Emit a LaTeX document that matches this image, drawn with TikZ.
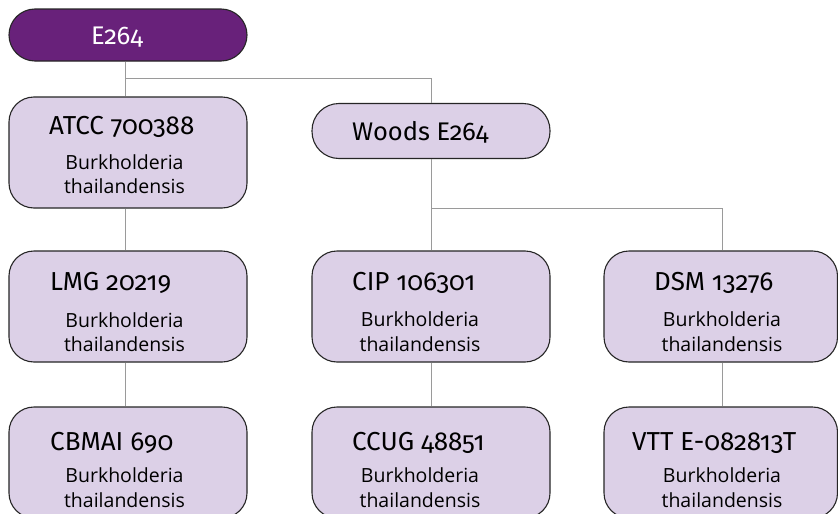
\documentclass[tikz,border=0pt]{standalone}
\usepackage{fontspec}
\newfontfamily\titlefont[Numbers=OldStyle]{Fira Sans}
\newfontfamily\bodyfont{Open Sans}
\definecolor{deeppurple}{HTML}{68217A}
\definecolor{lilac}{HTML}{DCD0E7}
\definecolor{linegrey}{HTML}{9A9A9A}
\begin{document}
\begin{tikzpicture}[x=1pt,y=-1pt,
  box/.style={draw=black!85, line width=1.1pt, fill=lilac, rectangle, rounded corners=25pt, minimum width=238pt, minimum height=111pt, inner sep=0pt},
  pill/.style={draw=black!85, line width=1.1pt, fill=lilac, rectangle, rounded corners=27pt, minimum width=238pt, minimum height=55pt, inner sep=0pt},
  ttl/.style={anchor=base west, inner sep=0pt, font=\titlefont\fontsize{26}{32}\selectfont},
  smallttl/.style={anchor=base west, inner sep=0pt, font=\titlefont\fontsize{25.5}{30}\selectfont},
  body/.style={anchor=base, inner sep=0pt, font=\bodyfont\fontsize{19.5}{24}\selectfont},
  conn/.style={draw=linegrey, line width=0.9pt}
]
\clip (0,0) rectangle (838,514);
\fill[white] (0,0) rectangle (838,514);

% boxes
\node[pill, fill=deeppurple, rounded corners=26pt, minimum height=52pt] (e264) at (128,35) {};
\node[box] (atcc) at (128,152.5) {};
\node[pill] (woods) at (431,131) {};
\node[box] (lmg) at (128,306.5) {};
\node[box] (cip) at (431,306.5) {};
\node[box, minimum width=233.5pt] (dsm) at (720.75,306.5) {};
\node[box] (cbmai) at (128,462.5) {};
\node[box] (ccug) at (431,462.5) {};
\node[box, minimum width=233.5pt] (vtt) at (720.75,462.5) {};

% connectors
\coordinate (j1) at (125,78);
\coordinate (j2) at (431,208);
\draw[conn] ([xshift=-3pt]e264.south) -- ([xshift=-3pt]atcc.north);
\draw[conn] (j1) -| (woods.north);
\draw[conn] ([xshift=-3pt]atcc.south) -- ([xshift=-3pt]lmg.north);
\draw[conn] ([xshift=-3pt]lmg.south) -- ([xshift=-3pt]cbmai.north);
\draw[conn] (woods.south) -- (cip.north);
\draw[conn] (j2) -| ([xshift=2pt]dsm.north);
\draw[conn] (cip.south) -- (ccug.north);
\draw[conn] ([xshift=2pt]dsm.south) -- ([xshift=2pt]vtt.north);

% texts
\node[smallttl, text=white] (te264) at (91,44.3) {E264};
\node[smallttl] (twoods) at (352,140) {Woods E264};

\node[ttl] (tatcc) at (49,134.3) {ATCC 700388};
\node[body] (batcc1) at (124.5,169) {Burkholderia};
\node[body] (batcc2) at (124.5,193.3) {thailandensis};

\node[ttl] (tlmg) at (50,290.7) {LMG 20219};
\node[body] (blmg1) at (124.5,327) {Burkholderia};
\node[body] (blmg2) at (124.5,351.7) {thailandensis};

\node[ttl] (tcip) at (352,290) {CIP 106301};
\node[body] (bcip1) at (420,326.5) {Burkholderia};
\node[body] (bcip2) at (420,351) {thailandensis};

\node[ttl] (tdsm) at (654,290) {DSM 13276};
\node[body] (bdsm1) at (722,326.7) {Burkholderia};
\node[body] (bdsm2) at (722,351.7) {thailandensis};

\node[ttl] (tcbmai) at (50,450) {CBMAI 690};
\node[body] (bcbmai1) at (124.5,482) {Burkholderia};
\node[body] (bcbmai2) at (124.5,507) {thailandensis};

\node[ttl] (tccug) at (352,450) {CCUG 48851};
\node[body] (bccug1) at (420,482) {Burkholderia};
\node[body] (bccug2) at (420,507) {thailandensis};

\node[ttl] (tvtt) at (632,450) {VTT E-082813T};
\node[body] (bvtt1) at (722,482) {Burkholderia};
\node[body] (bvtt2) at (722,507) {thailandensis};
\end{tikzpicture}
\end{document}
